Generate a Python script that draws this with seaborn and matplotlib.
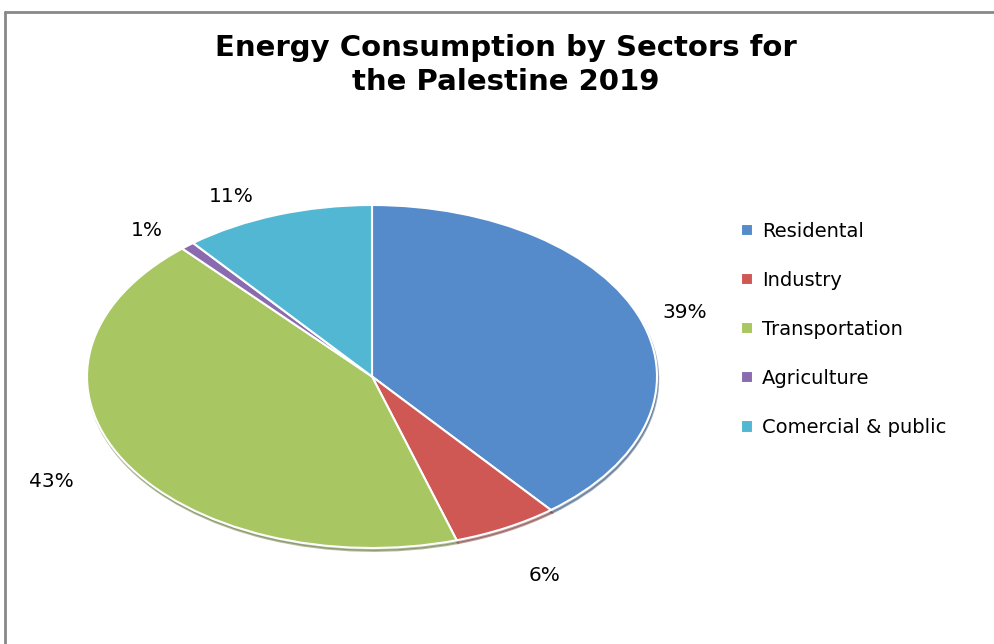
import matplotlib

matplotlib.use("Agg")
import matplotlib.pyplot as plt
from matplotlib.lines import Line2D
import numpy as np
import seaborn as sns


SECTORS = ["Residental", "Industry", "Transportation", "Agriculture", "Comercial & public"]
SHARES = [39.2, 6.0, 43.2, 0.8, 10.8]
PCT_LABELS = ["39%", "6%", "43%", "1%", "11%"]
COLORS = ["#558BCB", "#CF5855", "#A8C763", "#8A6BB0", "#52B7D3"]

sns.set_theme(style="white")
plt.rcParams["font.family"] = ["DejaVu Sans"]

fig = plt.figure(figsize=(9.95, 6.44), dpi=100)
ax = fig.add_axes([87 / 995, 1 - 548 / 644, 570 / 995, 343 / 644])

wedges, _ = ax.pie(
    SHARES,
    colors=sns.color_palette(COLORS),
    startangle=90,
    counterclock=False,
    radius=1.0,
    wedgeprops={"edgecolor": "white", "linewidth": 1.5},
    shadow={"ox": 0.003, "oy": -0.012, "shade": 0.4},
)
ax.set_aspect("auto")
ax.set_xlim(-1, 1)
ax.set_ylim(-1, 1)

# label spots: distance (fraction of radius) and angle nudge (deg), Excel "best fit"-ish
label_dist = [1.16, 1.31, 1.28, 1.16, 1.16]
label_nudge = [-0.6, -0.5, -0.9, 2.5, 5.8]
cum = np.cumsum([0] + SHARES[:-1])
for share, start, text, dist, nudge in zip(SHARES, cum, PCT_LABELS, label_dist, label_nudge):
    theta = np.deg2rad(90 - (start + share / 2) * 3.6 + nudge)
    ax.text(dist * np.cos(theta), dist * np.sin(theta), text,
            ha="center", va="center", fontsize=14.5, color="black", clip_on=False)

fig.text(0.508, 0.899, "Energy Consumption by Sectors for\nthe Palestine 2019",
         ha="center", va="center", fontsize=21, fontweight="bold",
         color="black", linespacing=1.25)

leg = fig.legend(
    wedges, SECTORS,
    loc="upper left", bbox_to_anchor=(0.727, 0.683),
    frameon=False, fontsize=14, handlelength=0.6, handleheight=0.6,
    handletextpad=0.5, labelspacing=1.55,
)
for t in leg.get_texts():
    t.set_color("black")

fig.add_artist(Line2D([5 / 995, 5 / 995], [0, 1 - 12 / 644], color="#888888", lw=2))
fig.add_artist(Line2D([5 / 995, 1], [1 - 12 / 644, 1 - 12 / 644], color="#888888", lw=2))

fig.savefig("out.png", dpi=100)
